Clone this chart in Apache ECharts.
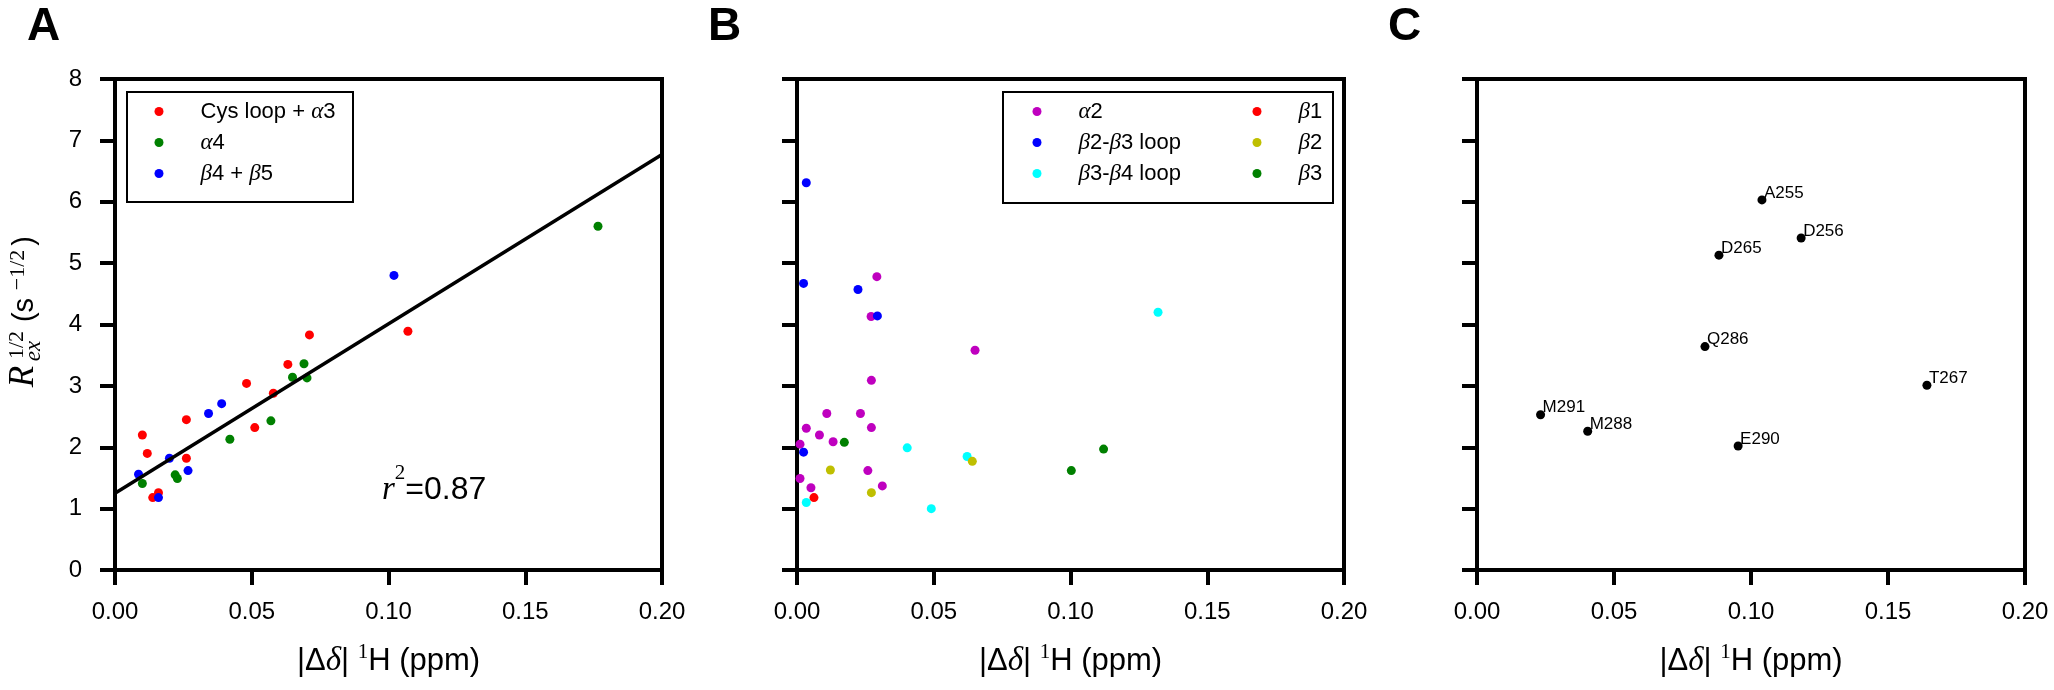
<!DOCTYPE html>
<html><head><meta charset="utf-8">
<script src="https://cdn.jsdelivr.net/npm/echarts@6/dist/echarts.min.js"></script>
<style>html,body{margin:0;padding:0;background:#fff}#c{width:2054px;height:690px}</style>
</head><body><div id="c"></div><script>
// ---------- tick labels ----------
const xTickLabels = ['0.00', '0.05', '0.10', '0.15', '0.20'];
const yTickLabels = ['0', '1', '2', '3', '4', '5', '6', '7', '8'];

// ---------- Panel A ----------
const cysX = [0.0100, 0.0118, 0.0138, 0.0159, 0.0261, 0.0261, 0.0481, 0.0511, 0.0579, 0.0632, 0.0711, 0.1071];
const cysY = [2.20, 1.90, 1.18, 1.26, 2.45, 1.82, 3.04, 2.32, 2.88, 3.35, 3.83, 3.89];
const a4X = [0.0100, 0.0220, 0.0228, 0.0420, 0.0570, 0.0649, 0.0691, 0.0702, 0.1766];
const a4Y = [1.41, 1.55, 1.49, 2.13, 2.43, 3.14, 3.36, 3.13, 5.60];
const b45X = [0.0086, 0.0159, 0.0199, 0.0267, 0.0342, 0.0390, 0.1020];
const b45Y = [1.56, 1.18, 1.82, 1.62, 2.55, 2.71, 4.80];
const fitX = [0, 0.2];
const fitY = [1.25, 6.77];
const r2Text = '0.87';

// ---------- Panel B ----------
const a2X = [0.0292, 0.0271, 0.0651, 0.0272, 0.0109, 0.0232, 0.0034, 0.0272, 0.0082, 0.0132, 0.0011, 0.0011, 0.0259, 0.0051, 0.0312];
const a2Y = [4.78, 4.13, 3.58, 3.09, 2.55, 2.55, 2.31, 2.32, 2.20, 2.09, 2.05, 1.49, 1.62, 1.34, 1.37];
const l23X = [0.0034, 0.0024, 0.0223, 0.0294, 0.0024];
const l23Y = [6.31, 4.67, 4.57, 4.14, 1.92];
const l34X = [0.1320, 0.0403, 0.0622, 0.0034, 0.0491];
const l34Y = [4.20, 1.99, 1.85, 1.10, 1.00];
const b1X = [0.0062];
const b1Y = [1.18];
const b2X = [0.0122, 0.0272, 0.0641];
const b2Y = [1.63, 1.26, 1.77];
const b3X = [0.0173, 0.1003, 0.1121];
const b3Y = [2.08, 1.62, 1.97];

// ---------- Panel C ----------
const cNames = ['A255', 'D256', 'D265', 'Q286', 'T267', 'M291', 'M288', 'E290'];
const cX = [0.1040, 0.1183, 0.0883, 0.0832, 0.1642, 0.0232, 0.0404, 0.0953];
const cY = [6.03, 5.41, 5.13, 3.64, 3.01, 2.53, 2.26, 2.02];

// ---------- helpers ----------
const SANS = '"Liberation Sans", Arial, sans-serif';
const SERIF = '"Liberation Serif", "DejaVu Serif", serif';
const zip = (xs, ys) => xs.map((x, i) => [x, ys[i]]);

function legendFmt(name) {
  let out = '{sp|}';
  let buf = '';
  for (const ch of name) {
    if (ch === 'α' || ch === 'β') {
      if (buf) { out += '{t|' + buf + '}'; buf = ''; }
      out += '{g|' + ch + '}';
    } else buf += ch;
  }
  if (buf) out += '{t|' + buf + '}';
  return out;
}
const legendRich = {
  sp: { width: 32 },
  t: { fontFamily: SANS, fontSize: 22, color: '#000', lineHeight: 26 },
  g: { fontFamily: SERIF, fontStyle: 'italic', fontSize: 23, color: '#000', lineHeight: 26 }
};
function mkLegend(left, names) {
  return {
    left: left, top: 100, orient: 'vertical', padding: 0,
    itemWidth: 9, itemHeight: 9, itemGap: 8, icon: 'circle',
    selectedMode: false, data: names, formatter: legendFmt,
    textStyle: { fontFamily: SANS, fontSize: 22, color: '#000', rich: legendRich }
  };
}

const grids = [
  { left: 115, top: 79, width: 547, height: 491 },
  { left: 797, top: 79, width: 547, height: 491 },
  { left: 1477, top: 79, width: 548, height: 491 }
].map(g => Object.assign(g, { show: true, borderColor: '#000', borderWidth: 4, backgroundColor: '#fff' }));

const xName = '{t||Δ}{g|δ}{t|| }{s|1}{t|H (ppm)}';
const xAxes = [0, 1, 2].map(i => ({
  gridIndex: i, type: 'value', min: 0, max: 0.2, interval: 0.05,
  axisLine: { show: true, onZero: false, lineStyle: { color: '#000', width: 4 } },
  axisTick: { show: true, length: 15, lineStyle: { color: '#000', width: 4 } },
  splitLine: { show: false },
  axisLabel: {
    fontSize: 24, fontFamily: SANS, color: '#000', margin: 30,
    showMinLabel: true, showMaxLabel: true,
    formatter: v => xTickLabels[Math.round(v / 0.05)]
  },
  name: xName, nameLocation: 'middle', nameGap: 73,
  nameTextStyle: {
    rich: {
      t: { fontFamily: SANS, fontSize: 31, color: '#000', lineHeight: 36 },
      g: { fontFamily: SERIF, fontStyle: 'italic', fontSize: 33, color: '#000', lineHeight: 36 },
      s: { fontFamily: SERIF, fontSize: 21, color: '#000', lineHeight: 21, padding: [0, 0, 17, 0] }
    }
  }
}));
const yAxes = [0, 1, 2].map(i => ({
  gridIndex: i, type: 'value', min: 0, max: 8, interval: 1,
  axisLine: { show: true, onZero: false, lineStyle: { color: '#000', width: 4 } },
  axisTick: { show: true, length: 15, lineStyle: { color: '#000', width: 4 } },
  splitLine: { show: false },
  axisLabel: {
    show: i === 0, fontSize: 24, fontFamily: SANS, color: '#000', margin: 33,
    formatter: v => yTickLabels[Math.round(v)]
  }
}));

function sc(name, color, xs, ys, gi) {
  return {
    name: name, type: 'scatter', xAxisIndex: gi, yAxisIndex: gi,
    data: zip(xs, ys), symbol: 'circle', symbolSize: 9,
    itemStyle: { color: color, opacity: 1 }, z: 3, silent: true
  };
}

const series = [
  sc('Cys loop + α3', '#ff0000', cysX, cysY, 0),
  sc('α4', '#008000', a4X, a4Y, 0),
  sc('β4 + β5', '#0000ff', b45X, b45Y, 0),
  {
    name: 'fit', type: 'line', xAxisIndex: 0, yAxisIndex: 0,
    data: zip(fitX, fitY), showSymbol: false, symbol: 'none',
    lineStyle: { color: '#000', width: 3.5 }, z: 5, silent: true
  },
  sc('α2', '#bf00bf', a2X, a2Y, 1),
  sc('β2-β3 loop', '#0000ff', l23X, l23Y, 1),
  sc('β3-β4 loop', '#00ffff', l34X, l34Y, 1),
  sc('β1', '#ff0000', b1X, b1Y, 1),
  sc('β2', '#bfbf00', b2X, b2Y, 1),
  sc('β3', '#008000', b3X, b3Y, 1),
  Object.assign(sc('residues', '#000000', cX, cY, 2), {
    label: {
      show: true, formatter: p => cNames[p.dataIndex],
      position: [6.5, -2.5], align: 'left', verticalAlign: 'middle',
      fontFamily: SANS, fontSize: 17, color: '#000'
    }
  })
];

function txt(x, y, text, font, rot) {
  return {
    type: 'text', x: x, y: y, rotation: rot || 0, z: 10,
    style: { text: text, font: font, fill: '#000', align: 'center', verticalAlign: 'middle' }
  };
}
const RAD = Math.PI / 2;
const graphic = [
  { type: 'rect', shape: { x: 127, y: 92, width: 226, height: 110 }, style: { fill: 'none', stroke: '#000', lineWidth: 2 }, z: 10 },
  { type: 'rect', shape: { x: 1003, y: 92, width: 330, height: 111 }, style: { fill: 'none', stroke: '#000', lineWidth: 2 }, z: 10 },
  txt(43.5, 27, 'A', 'bold 46px ' + SANS),
  txt(724.5, 27, 'B', 'bold 46px ' + SANS),
  txt(1404.5, 27, 'C', 'bold 46px ' + SANS),
  // y-axis label R_ex^{1/2} (s^{-1/2})
  txt(24, 376.5, 'R', 'italic 35px ' + SERIF, RAD),
  txt(17, 345, '1/2', '22px ' + SERIF, RAD),
  txt(34, 351, 'ex', 'italic 23px ' + SERIF, RAD),
  txt(25, 310, '(s', '29px ' + SANS, RAD),
  txt(18, 270, '−1/2', '22px ' + SERIF, RAD),
  txt(25, 241, ')', '29px ' + SANS, RAD),
  {
    type: 'text', x: 382, y: 490, z: 10,
    style: {
      text: '{r|r}{s|2}{t|=' + r2Text + '}', align: 'left', verticalAlign: 'middle',
      rich: {
        r: { fontFamily: SERIF, fontStyle: 'italic', fontSize: 33, color: '#000', lineHeight: 36 },
        s: { fontFamily: SERIF, fontSize: 21, color: '#000', lineHeight: 21, padding: [0, 0, 34, 0] },
        t: { fontFamily: SANS, fontSize: 32, color: '#000', lineHeight: 36 }
      }
    }
  }
];

const chart = echarts.init(document.getElementById('c'), null, { renderer: 'canvas' });
chart.setOption({
  backgroundColor: '#fff',
  animation: false,
  grid: grids, xAxis: xAxes, yAxis: yAxes,
  legend: [
    mkLegend(154.5, ['Cys loop + α3', 'α4', 'β4 + β5']),
    mkLegend(1032.5, ['α2', 'β2-β3 loop', 'β3-β4 loop']),
    mkLegend(1252.5, ['β1', 'β2', 'β3'])
  ],
  series: series,
  graphic: graphic
});
</script></body></html>
